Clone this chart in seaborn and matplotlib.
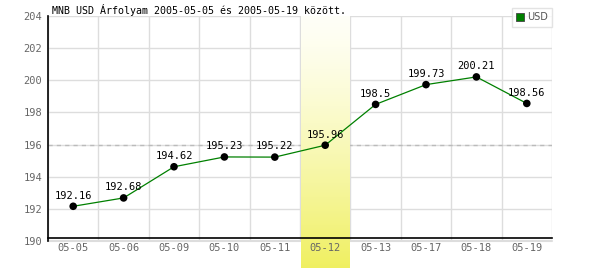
import numpy as np
import pandas as pd
import matplotlib
matplotlib.use("Agg")
import matplotlib.pyplot as plt
import matplotlib.transforms as mtransforms
from matplotlib.lines import Line2D
import seaborn as sns

dates = ["05-05", "05-06", "05-09", "05-10", "05-11", "05-12", "05-13", "05-17", "05-18", "05-19"]
usd = [192.16, 192.68, 194.62, 195.23, 195.22, 195.96, 198.5, 199.73, 200.21, 198.56]
labels = ["192.16", "192.68", "194.62", "195.23", "195.22", "195.96", "198.5", "199.73", "200.21", "198.56"]
yticks = [190, 192, 194, 196, 198, 200, 202, 204]
highlight = "05-12"
avg_line = 196
title = "MNB USD Árfolyam 2005-05-05 és 2005-05-19 között."

sns.set_theme(style="white")
plt.rcParams["font.family"] = ["DejaVu Sans Mono", "DejaVu Sans"]

df = pd.DataFrame({"date": dates, "usd": usd})
df["x"] = np.arange(len(dates))

fig = plt.figure(figsize=(6, 2.7), dpi=100)
ax = fig.add_axes([48 / 600, 1 - 241 / 270, 504 / 600, 225 / 270])
ax.set_axisbelow(False)

# grid
for xi in np.arange(len(dates) + 1) - 0.5:
    ax.axvline(xi, color="#dddddd", lw=1, zorder=0.2)
for yv in yticks:
    ax.axhline(yv, color="#dddddd", lw=1, zorder=0.2)
ax.axhline(avg_line, color="#bbbbbb", lw=1, ls=(0, (3, 3)), zorder=0.3)

# highlight band with gradient
hi = dates.index(highlight)
t = np.linspace(0, 1, 256) ** 1.3
top = np.array([1.0, 1.0, 0.97])
bot = np.array([0.94, 0.94, 0.38])
img = top[None, None, :] + (bot - top)[None, None, :] * t[:, None, None]
trans = mtransforms.blended_transform_factory(ax.transData, ax.transAxes)
ax.imshow(img, extent=[hi - 0.48, hi + 0.48, -27 / 225, 1], transform=trans,
          aspect="auto", origin="upper", clip_on=False, zorder=0.8)

sns.lineplot(data=df, x="x", y="usd", ax=ax, color="#008000", lw=0.9, zorder=3, legend=False)
sns.scatterplot(data=df, x="x", y="usd", ax=ax, color="black", s=30, zorder=4, edgecolor="none", legend=False)
for xi, yv, lab in zip(df["x"], usd, labels):
    ax.text(xi, yv + 0.35, lab, ha="center", va="bottom", fontsize=7.5, color="black", zorder=5)

ax.set_xlim(-0.5, len(dates) - 0.5)
ax.set_ylim(190, 204)
ax.set_xticks(df["x"])
ax.set_xticklabels(dates)
ax.set_yticks(yticks)
ax.set_xlabel("")
ax.set_ylabel("")
ax.tick_params(axis="both", length=0, labelsize=7.5, colors="#666666", pad=4)
for lab in ax.get_xticklabels() + ax.get_yticklabels():
    lab.set_color("#666666")

for s in ["top", "right"]:
    ax.spines[s].set_visible(False)
ax.spines["left"].set_color("black")
ax.spines["left"].set_linewidth(1.2)
ax.spines["bottom"].set_color("black")
ax.spines["bottom"].set_linewidth(1.2)
ax.spines["bottom"].set_position(("data", 190.2))
ax.axhline(190, color="#dddddd", lw=1.5, zorder=0.2, clip_on=False)

fig.text(52 / 600, 1 - 14 / 270, title, fontsize=7.2, color="black", ha="left", va="baseline")

handle = Line2D([], [], marker="s", color="none", markerfacecolor="#008000",
                markeredgecolor="#444444", markersize=6, markeredgewidth=0.6)
leg = ax.legend([handle], ["USD"], loc="upper right", bbox_to_anchor=(1.0, 1.036),
                frameon=True, fancybox=False, fontsize=7, handlelength=0.8,
                handletextpad=0.3, borderpad=0.45, borderaxespad=0)
leg.get_frame().set_edgecolor("#dddddd")
leg.get_frame().set_linewidth(1)
for tx in leg.get_texts():
    tx.set_color("#555555")
    tx.set_family(["DejaVu Sans"])

fig.savefig("out.png", dpi=100)
